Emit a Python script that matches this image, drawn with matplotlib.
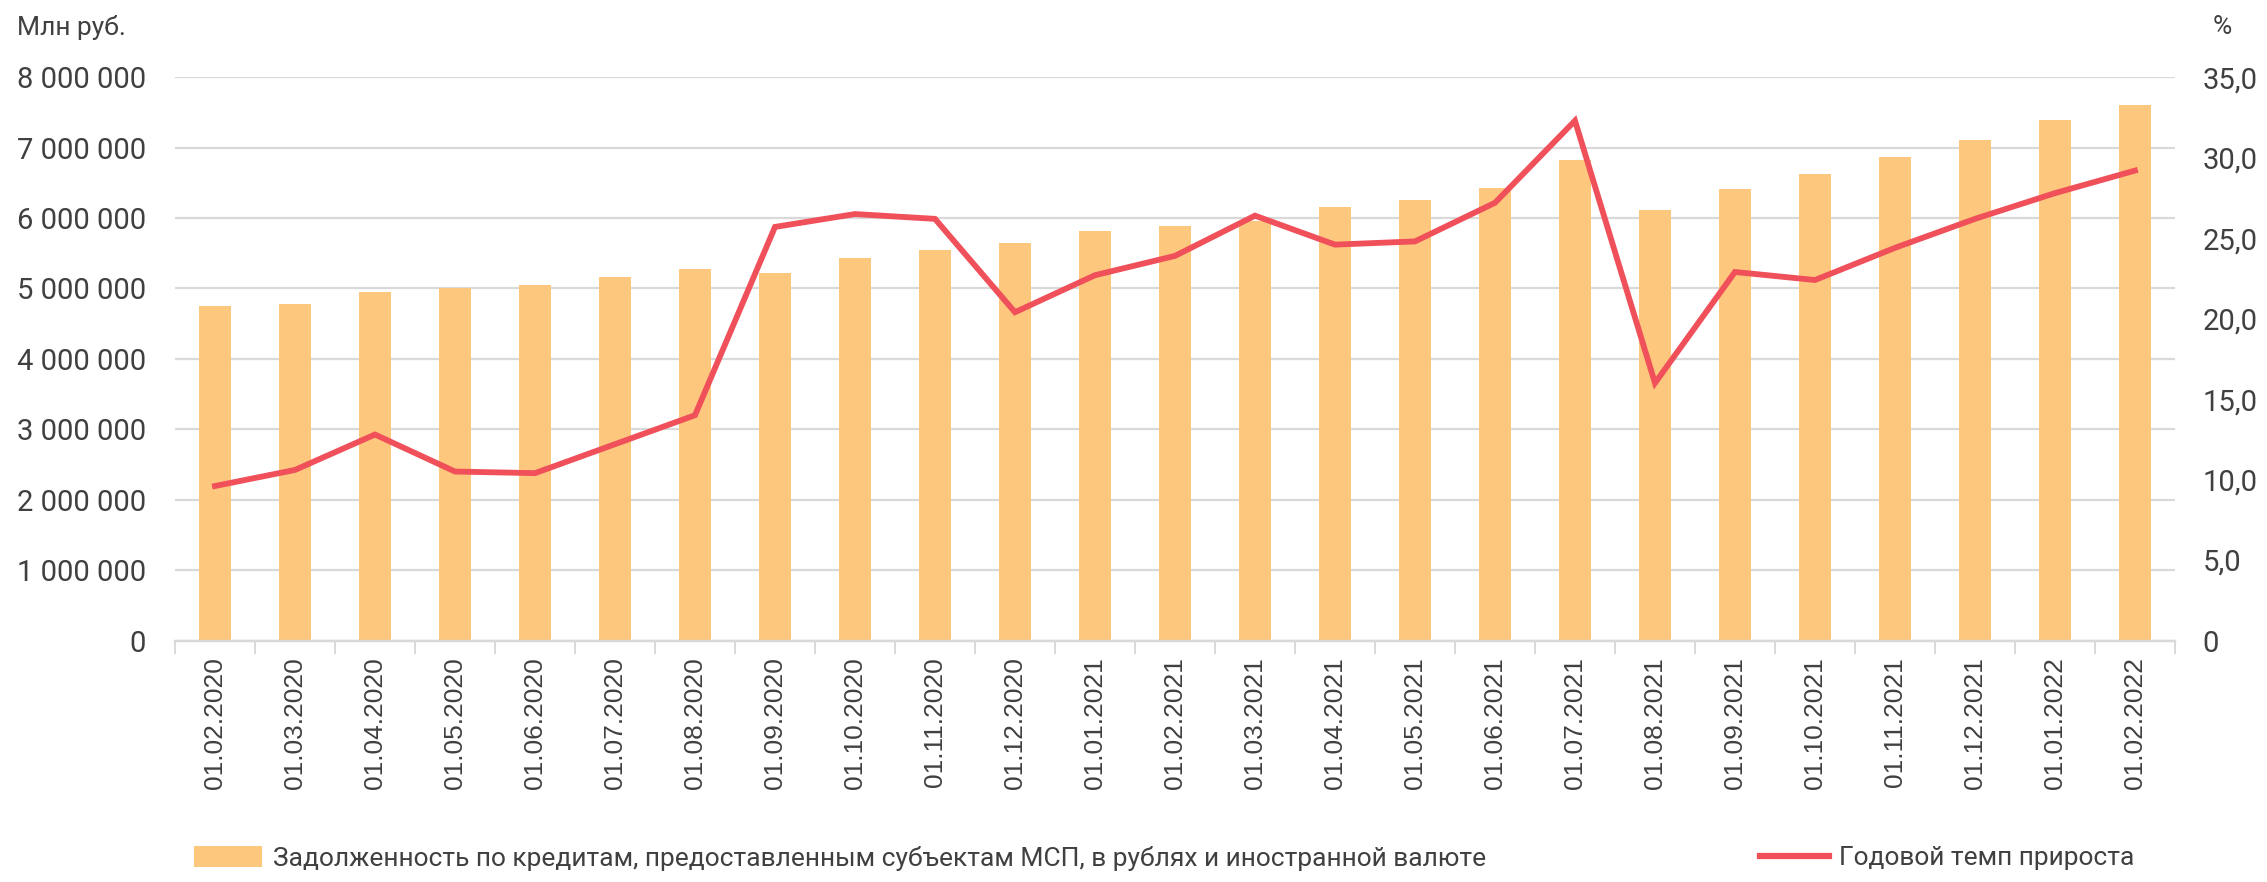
import numpy as np
import matplotlib
matplotlib.use('Agg')
import matplotlib.pyplot as plt
from matplotlib.ticker import FuncFormatter, MultipleLocator
from matplotlib.patches import Patch
from matplotlib.lines import Line2D

# -------- data --------
dates = ['01.02.2020', '01.03.2020', '01.04.2020', '01.05.2020', '01.06.2020',
         '01.07.2020', '01.08.2020', '01.09.2020', '01.10.2020', '01.11.2020',
         '01.12.2020', '01.01.2021', '01.02.2021', '01.03.2021', '01.04.2021',
         '01.05.2021', '01.06.2021', '01.07.2021', '01.08.2021', '01.09.2021',
         '01.10.2021', '01.11.2021', '01.12.2021', '01.01.2022', '01.02.2022']

# debt on SME loans, mln rub.
debt = [4750000, 4780000, 4950000, 5010000, 5050000,
        5170000, 5280000, 5220000, 5430000, 5540000,
        5650000, 5810000, 5890000, 5960000, 6160000,
        6260000, 6430000, 6830000, 6110000, 6410000,
        6630000, 6870000, 7110000, 7390000, 7600000]

# annual growth rate, %
growth = [9.6, 10.6, 12.8, 10.5, 10.4,
          12.2, 14.0, 25.7, 26.5, 26.2,
          20.4, 22.7, 23.9, 26.4, 24.6,
          24.8, 27.2, 32.3, 16.0, 22.9,
          22.4, 24.4, 26.2, 27.8, 29.2]

bar_label = 'Задолженность по кредитам, предоставленным субъектам МСП, в рублях и иностранной валюте'
line_label = 'Годовой темп прироста'

bar_color = '#FDC87E'
line_color = '#F0505A'
grid_color = '#D9D9D9'
text_color = '#404040'

plt.rcParams['font.family'] = ['Roboto', 'DejaVu Sans']

fig = plt.figure(figsize=(22.67, 8.82), dpi=100)
ax = fig.add_axes([0.0772, 0.2738, 0.8822, 0.6386])
ax2 = ax.twinx()

x = np.arange(len(dates))
ax.bar(x, debt, width=0.39, color=bar_color, zorder=2)
ax2.plot(x, growth, color=line_color, lw=4.2, solid_joinstyle='miter', zorder=3)

ax.set_xlim(-0.5, len(dates) - 0.5)
ax.set_ylim(0, 8000000)
ax2.set_ylim(0, 35)
ax.yaxis.set_major_locator(MultipleLocator(1000000))
ax2.yaxis.set_major_locator(MultipleLocator(5))
ax.yaxis.set_major_formatter(FuncFormatter(lambda v, p: f'{int(v):,}'.replace(',', ' ')))
ax2.yaxis.set_major_formatter(FuncFormatter(lambda v, p: '0' if v == 0 else f'{v:.1f}'.replace('.', ',')))

ax.grid(axis='y', color=grid_color, lw=1.6, zorder=0)
ax.set_axisbelow(True)

for a in (ax, ax2):
    for s in ('top', 'left', 'right'):
        a.spines[s].set_visible(False)
    a.spines['bottom'].set_color(grid_color)
    a.spines['bottom'].set_linewidth(1.6)

ax.set_xticks(x)
ax.set_xticklabels(dates, rotation=90, family=['Liberation Sans', 'DejaVu Sans'],
                   fontsize=19, color=text_color)
ax.set_xticks(np.arange(-0.5, len(dates), 1), minor=True)
ax.tick_params(axis='x', which='major', length=0, pad=12)
ax.tick_params(axis='x', which='minor', length=9, width=1.4, color=grid_color)
ax.tick_params(axis='y', length=0, pad=21, labelsize=21, labelcolor=text_color)
ax2.tick_params(axis='y', length=0, pad=20, labelsize=21, labelcolor=text_color)

fig.text(0.0075, 0.969, 'Млн руб.', fontsize=19, color=text_color, va='center', ha='left')
fig.text(0.976, 0.969, '%', fontsize=19, color=text_color, va='center', ha='left')

h1 = [Patch(facecolor=bar_color, edgecolor='none')]
h2 = [Line2D([0], [0], color=line_color, lw=4.5)]
leg1 = fig.legend(h1, [bar_label], loc='center left', bbox_to_anchor=(0.075, 0.027),
                  frameon=False, fontsize=19, handlelength=2.6, handleheight=0.8,
                  handletextpad=0.4, labelcolor=text_color)
leg2 = fig.legend(h2, [line_label], loc='center right', bbox_to_anchor=(0.952, 0.027),
                  frameon=False, fontsize=19, handlelength=2.6,
                  handletextpad=0.4, labelcolor=text_color)

fig.savefig('out.png', dpi=100, facecolor='white')
